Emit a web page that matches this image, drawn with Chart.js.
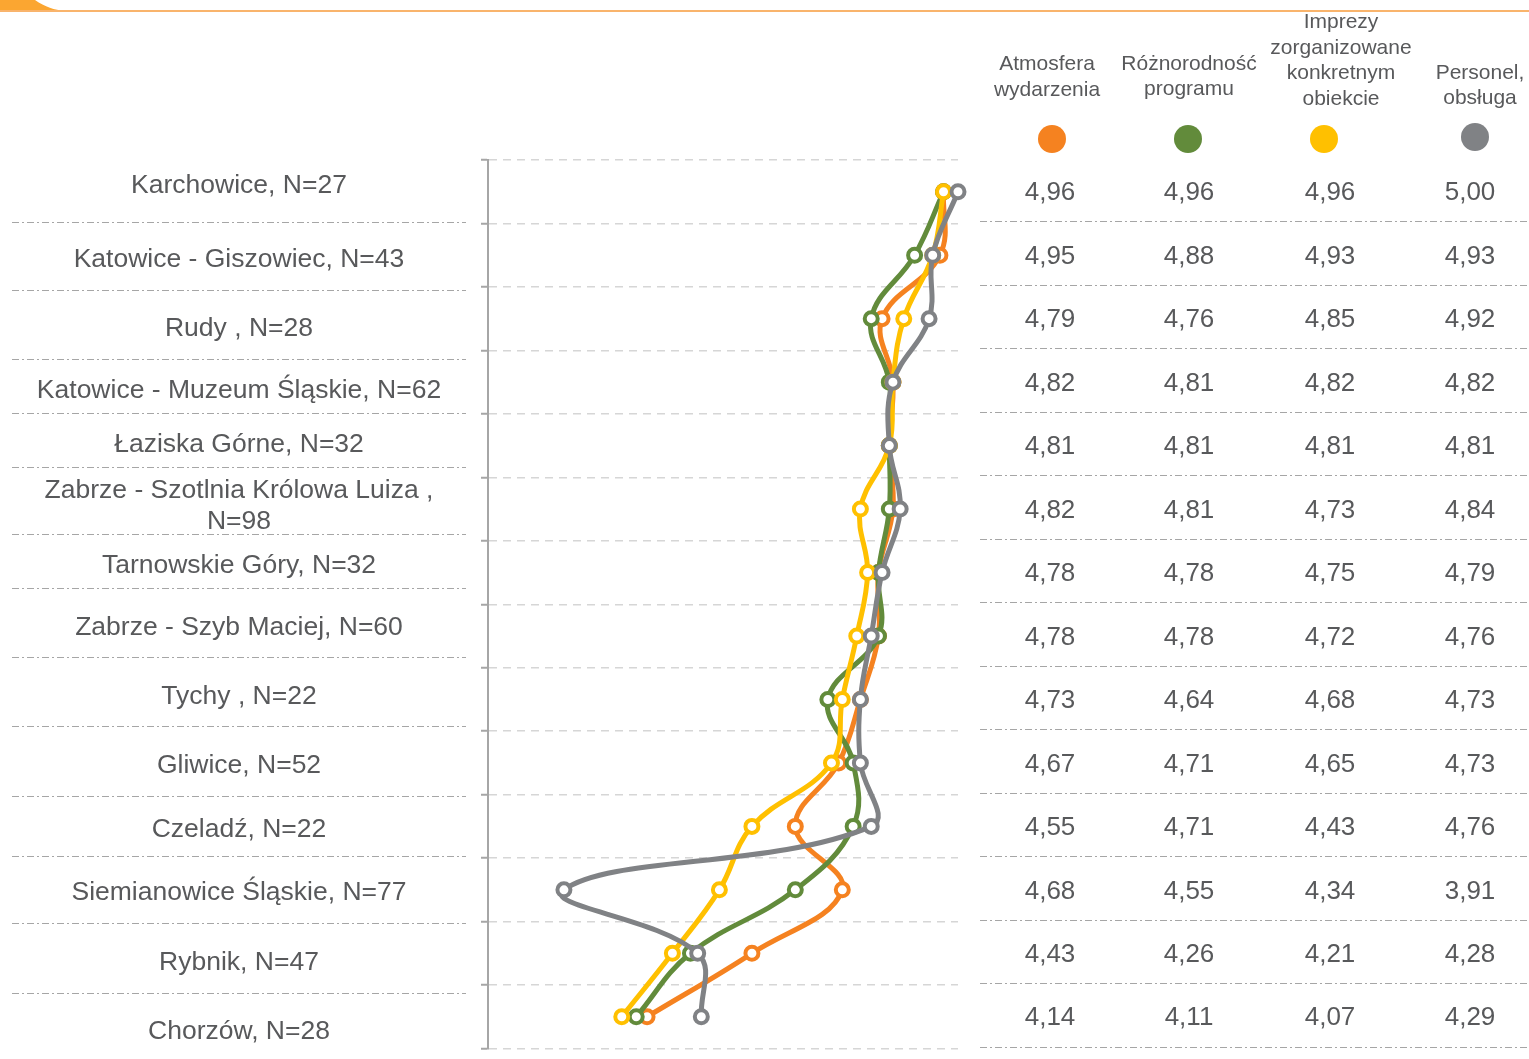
<!DOCTYPE html>
<html>
<head>
<meta charset="utf-8">
<script src="https://cdn.jsdelivr.net/npm/chart.js@4"></script>
<style>
  html, body { margin: 0; padding: 0; background: #fff; }
  canvas { display: block; }
</style>
</head>
<body>
<canvas id="chart" width="1529" height="1059"></canvas>
<script>
// Locations (rows, top to bottom)
const locations = [
  "Karchowice, N=27",
  "Katowice - Giszowiec, N=43",
  "Rudy , N=28",
  "Katowice - Muzeum Śląskie, N=62",
  "Łaziska Górne, N=32",
  "Zabrze - Szotlnia Królowa Luiza , N=98",
  "Tarnowskie Góry, N=32",
  "Zabrze - Szyb Maciej, N=60",
  "Tychy , N=22",
  "Gliwice, N=52",
  "Czeladź, N=22",
  "Siemianowice Śląskie, N=77",
  "Rybnik, N=47",
  "Chorzów, N=28"
];

// Series names (header, already split into lines)
const seriesNames = [
  ["Atmosfera", "wydarzenia"],
  ["Różnorodność", "programu"],
  ["Imprezy", "zorganizowane", "konkretnym", "obiekcie"],
  ["Personel,", "obsługa"]
];

// Series values
const atmosfera    = [4.96, 4.95, 4.79, 4.82, 4.81, 4.82, 4.78, 4.78, 4.73, 4.67, 4.55, 4.68, 4.43, 4.14];
const roznorodnosc = [4.96, 4.88, 4.76, 4.81, 4.81, 4.81, 4.78, 4.78, 4.64, 4.71, 4.71, 4.55, 4.26, 4.11];
const imprezy      = [4.96, 4.93, 4.85, 4.82, 4.81, 4.73, 4.75, 4.72, 4.68, 4.65, 4.43, 4.34, 4.21, 4.07];
const personel     = [5.00, 4.93, 4.92, 4.82, 4.81, 4.84, 4.79, 4.76, 4.73, 4.73, 4.76, 3.91, 4.28, 4.29];

const seriesValues = [atmosfera, roznorodnosc, imprezy, personel];
const seriesColors = ["#F58220", "#628B3B", "#FFC000", "#808285"];

// Layout (pixels) for the side tables
const TEXT = "#58595B";
const FONT = "'Liberation Sans', Arial, sans-serif";
const leftTextY = [186, 260, 329, 391, 445, 506, 566, 628, 697, 766, 830, 893, 963, 1032];
const leftSepY = [222, 290, 359, 413, 467, 534, 588, 657, 726, 796, 856, 923, 993];
const headerX = [1047, 1189, 1341, 1480];
const headerTopY = [64.5, 64, 22.5, 73];
const dotX = [1052, 1188, 1324, 1475];
const dotY = [139, 139, 139, 137];
const valueX = [1050, 1189, 1330, 1470];

function wrapText(ctx, text, maxWidth) {
  const words = text.split(" ");
  let lines = [], line = "";
  words.forEach(w => {
    const test = line ? line + " " + w : w;
    if (ctx.measureText(test).width > maxWidth && line) {
      lines.push(line);
      line = w;
    } else {
      line = test;
    }
  });
  lines.push(line);
  return lines;
}

// Draws background, top decoration, left labels, header and right value table
const sidePlugin = {
  id: "sideTables",
  beforeDraw(chart) {
    const ctx = chart.ctx;
    ctx.save();
    ctx.fillStyle = "#fff";
    ctx.fillRect(0, 0, chart.width, chart.height);

    // top orange tab + line
    ctx.fillStyle = "#FBA631";
    ctx.beginPath();
    ctx.moveTo(0, 0);
    ctx.lineTo(35, 0);
    ctx.bezierCurveTo(45, 7, 55, 10, 64, 11);
    ctx.lineTo(0, 11);
    ctx.closePath();
    ctx.fill();
    ctx.strokeStyle = "#F9B46C";
    ctx.lineWidth = 2;
    ctx.beginPath();
    ctx.moveTo(0, 11);
    ctx.lineTo(chart.width, 11);
    ctx.stroke();
    ctx.restore();
  },
  afterDraw(chart) {
    const ctx = chart.ctx;
    const yScale = chart.scales.y;
    ctx.save();

    // left labels
    ctx.fillStyle = TEXT;
    ctx.font = "26.5px " + FONT;
    ctx.textAlign = "center";
    ctx.textBaseline = "middle";
    locations.forEach((loc, i) => {
      const lines = wrapText(ctx, loc, 440);
      const lh = 31.5;
      const y0 = leftTextY[i] - (lines.length - 1) * lh / 2;
      lines.forEach((l, k) => ctx.fillText(l, 239, y0 + k * lh));
    });

    // separators (left + right)
    ctx.strokeStyle = "#A6A6A6";
    ctx.lineWidth = 1;
    ctx.setLineDash([7, 3, 2, 3]);
    leftSepY.forEach(y => {
      ctx.beginPath();
      ctx.moveTo(12, y + 0.5);
      ctx.lineTo(466, y + 0.5);
      ctx.stroke();
    });
    for (let i = 0; i < locations.length; i++) {
      const y = i < locations.length - 1
        ? (yScale.getPixelForValue(i) + yScale.getPixelForValue(i + 1)) / 2
        : chart.chartArea.bottom;
      ctx.beginPath();
      ctx.moveTo(980, Math.round(y) - 1.5);
      ctx.lineTo(1529, Math.round(y) - 1.5);
      ctx.stroke();
    }
    ctx.setLineDash([]);

    // header
    ctx.font = "21px " + FONT;
    seriesNames.forEach((lines, s) => {
      lines.forEach((l, k) => ctx.fillText(l, headerX[s], headerTopY[s] + k * 25.5));
      ctx.fillStyle = seriesColors[s];
      ctx.beginPath();
      ctx.arc(dotX[s], dotY[s], 14, 0, Math.PI * 2);
      ctx.fill();
      ctx.fillStyle = TEXT;
    });

    // values
    ctx.font = "26px " + FONT;
    seriesValues.forEach((vals, s) => {
      vals.forEach((v, i) => {
        const y = yScale.getPixelForValue(i);
        ctx.fillText(v.toFixed(2).replace(".", ","), valueX[s], y + 1.5);
      });
    });
    ctx.restore();
  }
};

function makeSet(label, data, color, order) {
  return {
    label: label,
    data: data,
    borderColor: color,
    backgroundColor: "#fff",
    pointBackgroundColor: "#fff",
    pointBorderColor: color,
    pointRadius: 6.5,
    pointBorderWidth: 4,
    borderWidth: 5,
    tension: 0.4,
    clip: false,
    order: order
  };
}

const ctx = document.getElementById("chart").getContext("2d");
new Chart(ctx, {
  type: "line",
  data: {
    labels: locations,
    datasets: [
      makeSet(seriesNames[0].join(" "), atmosfera, seriesColors[0], 3),
      makeSet(seriesNames[1].join(" "), roznorodnosc, seriesColors[1], 2),
      makeSet(seriesNames[2].join(" "), imprezy, seriesColors[2], 1),
      makeSet(seriesNames[3].join(" "), personel, seriesColors[3], 0)
    ]
  },
  options: {
    indexAxis: "y",
    responsive: false,
    animation: false,
    devicePixelRatio: 1,
    layout: { padding: { left: 481, right: 571, top: 160, bottom: 9 } },
    plugins: { legend: { display: false }, tooltip: { enabled: false } },
    scales: {
      x: { type: "linear", min: 3.7, max: 5.0, display: false },
      y: {
        type: "category",
        offset: true,
        grid: { offset: true, color: "#D6D6D6", lineWidth: 1.5, tickLength: 7, tickColor: "#A6A6A6", tickWidth: 2 },
        border: { color: "#A6A6A6", width: 2, dash: [8, 6] },
        ticks: { display: false },
        afterFit(s) { s.width = 7; }
      }
    }
  },
  plugins: [sidePlugin]
});
</script>
</body>
</html>
